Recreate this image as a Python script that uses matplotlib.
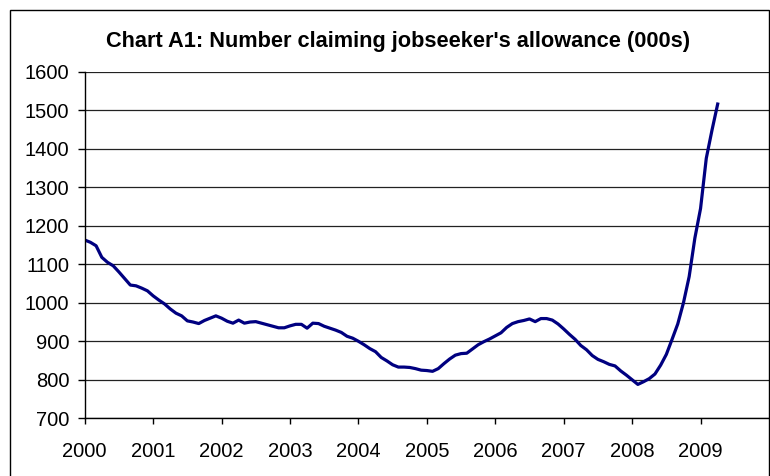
import numpy as np
import matplotlib.pyplot as plt
from matplotlib.patches import Rectangle

plt.rcParams['font.family'] = ['Liberation Sans', 'DejaVu Sans']

# Claimant count, thousands, monthly from Jan 2000
claimants = [
    1163, 1157, 1148, 1118, 1105, 1096, 1080, 1063, 1046, 1044, 1038, 1031,  # 2000
    1018, 1007, 997, 984, 973, 966, 953, 950, 946, 954, 960, 966,            # 2001
    960, 952, 947, 955, 947, 950, 951, 947, 943, 939, 935, 935,              # 2002
    940, 944, 944, 934, 947, 946, 939, 934, 929, 923, 913, 908,              # 2003
    900, 891, 881, 873, 858, 849, 839, 833, 833, 832, 829, 825,              # 2004
    824, 822, 829, 842, 854, 864, 868, 869, 880, 891, 899, 906,              # 2005
    914, 922, 936, 946, 951, 954, 958, 951, 959, 959, 955, 945,              # 2006
    932, 918, 905, 889, 878, 863, 853, 847, 840, 836, 823, 812,              # 2007
    800, 788, 795, 803, 815, 838, 866, 905, 945, 1000, 1068, 1168,           # 2008
    1245, 1375, 1448, 1516,                                                  # 2009
]
start_year = 2000
year_ticks = list(range(2000, 2010))
y_ticks = list(range(700, 1700, 100))

x = start_year + np.arange(len(claimants)) / 12.0

fig = plt.figure(figsize=(7.70, 4.76), dpi=100)
ax = fig.add_axes([84.7 / 770, 1 - 418.3 / 476, (769 - 84.7) / 770, (418.3 - 71.7) / 476])

ax.plot(x, claimants, color="#000080", linewidth=2.3, solid_joinstyle="round")

ax.set_xlim(2000, 2010)
ax.set_ylim(700, 1600)
ax.set_xticks(year_ticks)
ax.set_xticklabels([str(y) for y in year_ticks])
ax.set_yticks(y_ticks)

ax.yaxis.grid(True, color="#222222", linewidth=0.9)
ax.set_axisbelow(True)
for side in ("top", "right"):
    ax.spines[side].set_visible(False)
for side in ("left", "bottom"):
    ax.spines[side].set_color("black")
    ax.spines[side].set_linewidth(1.0)

ax.tick_params(axis="y", direction="out", length=5, width=1, pad=6, labelsize=14.5)
ax.tick_params(axis="x", direction="out", length=4, width=1, pad=13, labelsize=14.5)

fig.text(398.5 / 770, 1 - 41 / 476,
         "Chart A1: Number claiming jobseeker's allowance (000s)",
         ha="center", va="center", fontsize=15.7, fontweight="bold")

# chart area border (runs off the bottom of the image)
fig.add_artist(Rectangle((9.5 / 770, -0.1), (769 - 9.5) / 770, 1.1 - 10.5 / 476,
                         transform=fig.transFigure, fill=False,
                         edgecolor="black", linewidth=1.0))

fig.savefig("out.png", dpi=100)
